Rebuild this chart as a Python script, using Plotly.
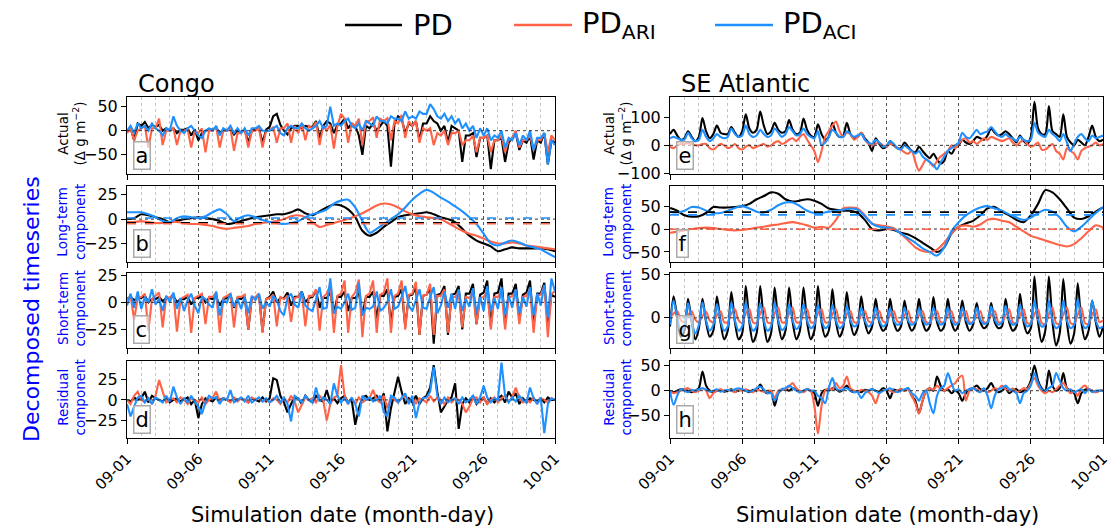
import plotly.graph_objects as go
from plotly.subplots import make_subplots
import pandas as pd

# ---------------- data ----------------
START = "2020-09-01"
END = "2020-10-01"
tick_labels = ["09-01", "09-06", "09-11", "09-16", "09-21", "09-26", "10-01"]
series_names = ["PD", "PD<sub>ARI</sub>", "PD<sub>ACI</sub>"]
series_colors = ["#000000", "#FF6347", "#1E90FF"]
regions = ["Congo", "SE Atlantic"]
row_titles = ["Actual<br>(Δ g m<sup>−2</sup>)", "Long-term<br>component",
              "Short-term<br>component", "Residual<br>component"]
panel_letters = [["a", "b", "c", "d"], ["e", "f", "g", "h"]]

# Congo, 6-hourly
congo_actual_pd = [0, 5, -20, 15, 10, 18, 5, 12, 8, 12, 0, 5, 0, 5, -5, 2, 2, 5, -10, 3,
    -20, -5, 0, 3, 2, 6, -5, 2, 0, 3, -8, 0, -3, 2, -25, 0, 3, 5, -25, 2,
    8, 30, 35, 12, 0, -8, 5, 10, 10, 5, 10, 8, 8, 20, -15, 10, 20, 15, -5, 12,
    15, 25, 5, 15, 10, -10, -50, 10, 5, 15, 0, 10, 20, 10, -75, 15, 30, 25, -5, 15,
    10, 20, -20, 15, 15, 30, 20, 15, 0, 10, -25, 10, 5, 0, -65, -10, -10, -5, -55, -15,
    -15, -10, -80, -20, -20, -15, -65, -25, -15, -5, -40, -20, -25, -10, -60, -20, -25, -5, -70, -20,
    -25]
congo_actual_ari = [-5, 5, -20, 0, 5, 10, -35, 5, 5, 25, -30, 0, 0, 5, -30, 0, 0, 3, -35, 0,
    -5, 5, -45, 0, 0, 8, -35, 0, 0, 5, -42, -5, -5, 3, -35, 0, 0, 5, -35, 0,
    0, 8, -25, 5, 5, 15, -25, 10, -5, 15, -20, 10, 5, 18, -30, 10, 0, 12, -37, 10,
    35, 25, -25, 15, 10, 25, -30, 20, 20, 28, -15, 25, 20, 26, -20, 20, 15, 33, -15, 20,
    10, 20, -25, 5, 0, 5, -30, -5, -10, 0, -30, -5, -5, 0, -30, -20, -20, -10, -45, -15,
    -15, -10, -45, -20, -20, -10, -45, -20, -15, 0, -35, -20, -20, -10, -40, -20, -20, -5, -45, -10,
    -20]
congo_actual_aci = [0, 10, -5, 15, 5, 10, 0, 15, 5, 0, -10, 5, 0, 30, 10, 0, -5, 5, 10, 0,
    -10, -15, 0, 5, 0, 10, -10, 5, 0, 10, -5, 5, -5, 5, -10, 5, 5, 10, 0, 0,
    0, 5, 10, -5, -10, 5, 10, 5, 5, 15, 5, 0, 5, 10, 20, 5, 10, 50, 10, 15,
    10, 20, 25, 10, 5, 15, 0, 20, 15, 10, 30, 20, 20, 15, 30, 25, 25, 20, 40, 25,
    30, 25, 40, 35, 35, 55, 45, 30, 25, 35, 20, 30, 15, 25, 5, 15, 0, 10, -15, 5,
    -10, 5, -20, -10, -15, 0, -35, -15, -20, -5, -30, -10, -20, 0, -40, -15, -15, -5, -70, -20,
    -30]

# Congo long-term, 12-hourly
congo_long_pd = [0, 1, 5, 4, 2, 0, -3, -2, 0, 1,
    2, 1, 0, -2, -5, -4, -2, 0, 2, 3,
    4, 5, 5, 7, 10, 6, 4, 8, 12, 15,
    14, 10, 2, -12, -17, -14, -8, -3, 2, 4,
    5, 6, 7, 5, 2, 0, -3, -10, -17, -22,
    -25, -28, -33, -31, -29, -30, -30, -30, -30, -31,
    -33]
congo_long_ari = [-3, -3, -2, -3, -4, -4, -3, -3, -4, -5,
    -5, -6, -7, -9, -10, -9, -8, -7, -5, -4,
    -3, -2, 0, 3, 4, 2, -3, -8, -6, -4,
    -2, 0, 3, 6, 10, 14, 16, 15, 12, 8,
    5, 3, 2, 1, 0, -4, -8, -12, -15, -17,
    -20, -23, -25, -25, -24, -25, -27, -28, -29, -30,
    -31]
congo_long_aci = [7, 7, 7, 5, 2, -2, -3, 1, 3, 2,
    1, 3, 7, 10, 5, -2, 2, 4, 2, -1,
    -3, -4, -5, -4, -2, 2, 5, 7, 10, 16,
    19, 20, 12, -2, -14, -10, -5, 0, 5, 12,
    20, 26, 30, 27, 22, 18, 13, 8, 2, -5,
    -15, -25, -27, -24, -22, -24, -27, -29, -31, -35,
    -39]
congo_long_means = [-3.7, -4.7, 1.2]

congo_short_pd = [3, 5, 2, 4, 4, 6, 0, 3, 3, 5, 1, 4, 4, 6, 0, 3, 3, 5, -2, 4,
    4, 6, 0, 4, 3, 5, -3, 3, 4, 6, -5, 4, 3, 6, -25, 4, 4, 7, -27, 3,
    5, 10, 0, 4, 4, 9, -3, 5, 5, 10, 0, 4, 5, 11, -5, 4, 4, 9, -10, 5,
    5, 10, -8, 4, 4, 9, -12, 5, 5, 10, -15, 6, 6, 12, -20, 5, 6, 12, -22, 6,
    7, 14, -30, 6, 7, 13, -38, 7, 8, 15, -30, 7, 8, 15, -25, 8, 8, 17, -20, 7,
    9, 20, -22, 8, 9, 22, -20, 8, 8, 17, -15, 7, 9, 20, -22, 8, 8, 18, -20, 7,
    5]
congo_short_ari = [2, 6, -16, 4, 5, 8, -26, 3, 6, 9, -23, 5, 4, 8, -27, 3, 5, 7, -28, 4,
    6, 8, -20, 5, 5, 9, -28, 4, 6, 8, -23, 5, 5, 7, -25, 4, 5, 8, -28, 3,
    4, 7, -22, 5, 3, 6, -18, 4, 5, 9, -22, 6, 6, 12, -26, 5, 8, 16, -28, 6,
    8, 20, -28, 5, 9, 21, -32, 6, 8, 20, -28, 7, 9, 22, -28, 6, 8, 20, -25, 7,
    8, 19, -30, 6, 7, 17, -30, 6, 6, 12, -28, 5, 5, 10, -23, 5, 4, 9, -20, 4,
    5, 10, -25, 5, 5, 11, -25, 4, 6, 10, -20, 5, 6, 12, -28, 6, 7, 15, -32, 8,
    10]
congo_short_aci = [-3, 8, -5, 10, -6, 5, 0, 12, -2, 3, -8, 6, 0, 9, -6, 4, -8, 2, 8, -3,
    -10, 5, 3, -2, -5, 10, -12, 2, 0, 8, -4, 3, -6, 5, -10, 6, 2, 8, -6, 0,
    -4, 6, 2, -8, -12, 4, 8, -2, -5, 10, -3, -6, -8, 2, 14, -6, -5, 22, -10, -4,
    -6, 0, 8, -7, -5, 18, -12, -5, -6, -4, 10, -8, -5, 0, 12, -6, -4, 5, 15, -3,
    -8, 2, 12, -5, -6, 5, 14, -10, -3, 10, -5, 8, -6, 12, -8, 3, -4, 13, -10, 5,
    -8, 15, -8, 4, -6, 14, -12, 6, -5, 12, -10, 5, -4, 14, -12, 8, -3, 16, -14, 22,
    10]

congo_resid_pd = [0, -2, 3, 0, 2, 10, -3, 5, 2, 0, -2, 3, -3, 0, 2, -2, 0, 3, -5, 0,
    -22, -5, 2, 0, -2, 3, 0, 2, 0, -2, 2, 0, 2, 0, -3, 2, 0, -2, 3, -2,
    2, 26, 24, 5, -3, -15, -5, 3, 2, -5, 5, 0, -3, 5, 0, -2, 12, -3, 2, -4,
    2, 5, -3, 0, -30, -10, 3, 5, 0, 2, 5, -3, 8, -38, -10, 8, 28, 10, -5, 2,
    -3, 5, -5, 2, 5, 15, 42, 10, -15, -8, 0, 3, 20, -35, -5, 2, -3, 5, -5, 0,
    3, -5, 2, -3, 2, 5, -3, 10, 3, 8, -5, 2, -3, 2, 0, -2, 2, -3, 3, 0,
    0]
congo_resid_ari = [0, -5, 5, 10, 0, -3, 2, -5, 5, 24, 10, -3, 0, 2, -3, 3, 0, -5, 2, 0,
    -3, 3, -5, 0, 3, 10, -2, 2, 0, -3, 3, -2, 2, 0, -3, 3, 0, 2, -2, 0,
    -3, 2, 0, -5, 2, -3, 5, -2, -15, -5, 3, 0, 2, -3, 5, 0, -25, -5, 3, 5,
    42, 5, -5, 2, -5, 3, -3, 0, 2, 12, 0, -3, 5, -10, 3, 0, -3, 2, 5, -2,
    3, -5, 2, 0, -3, 5, -2, 3, 0, -5, 3, -3, 2, 0, -5, -15, -8, 2, 3, -3,
    3, -5, 0, 3, -3, 2, 5, -2, 3, 15, 2, -3, 0, -3, 3, -5, 2, 0, -3, 2,
    0]
congo_resid_aci = [-5, -20, -8, 3, 5, -3, 2, -5, 3, 0, -3, 5, -2, 16, 3, -5, 2, -3, 5, -2,
    -8, -17, -3, 5, 2, 3, -5, 2, 0, 12, -3, 0, 3, -2, 5, -3, 0, 3, -2, 2,
    -3, 0, 5, -3, 3, -5, -26, 5, 2, -3, 5, 0, -3, 15, -2, 3, 0, -5, 20, 5,
    -3, 2, -5, 3, -5, -20, 5, 0, 3, -2, 0, 5, -15, -20, 5, 3, -3, 2, 8, -5,
    5, -22, -3, 2, 3, 10, 40, 5, -5, 3, -3, 0, 2, -5, 3, -3, 0, 5, -5, 3,
    17, 3, -3, 2, 0, 45, 5, -3, 3, -2, 5, 0, -3, 15, 2, -5, 3, -40, -5, 2,
    0]

# SE Atlantic
atl_actual_pd = [40, 55, 35, 20, 25, 50, 30, 15, 30, 97, 50, 25, 40, 70, 45, 40, 40, 65, 45, 30,
    50, 110, 60, 45, 55, 120, 70, 40, 50, 80, 55, 45, 50, 90, 55, 40, 45, 95, 55, 35,
    30, 75, 40, 20, 30, 80, 45, 30, 35, 80, 40, 25, 30, 45, 25, 10, -20, 25, 5, -10,
    -5, 15, 0, -10, -10, 10, -5, -20, -25, -5, -20, -35, -45, -30, -50, -65, -55, -20, -30, -10,
    0, 20, 10, 5, 15, 30, 25, 20, 35, 60, 45, 35, 40, 50, 40, 25, 10, 35, 15, 5,
    30, 155, 60, 40, 40, 140, 50, 40, 30, 110, 30, 10, 0, 20, 10, 0, 30, 70, 30, 15,
    20]
atl_actual_ari = [-5, -10, 0, 5, 5, 8, 5, 0, 0, 5, 5, -10, -15, -5, 5, 0, -10, -5, 5, -10,
    -15, -5, 0, -10, -5, 0, 5, -5, 0, 10, 15, 5, 10, 20, 25, 15, 30, 40, 20, 0,
    -20, -60, -20, 30, 50, 70, 85, 50, 30, 45, 40, 20, 30, 45, 20, 5, 0, 5, 10, 0,
    -5, 5, 0, -10, -15, -25, -30, -20, -60, -90, -70, -50, -60, -75, -55, -40, -30, -20, 0, -10,
    5, 20, 25, 10, 15, 5, 15, 25, 20, 30, 25, 20, 15, 20, 25, 10, 0, 10, 20, 5,
    -5, 0, 10, -15, -15, -5, 5, -20, -30, -50, -10, -20, -30, -50, -20, -10, -5, 0, 10, 0,
    5]
atl_actual_aci = [25, 30, 25, 20, 20, 45, 25, 15, 20, 55, 30, 15, 25, 40, 30, 25, 30, 60, 40, 30,
    35, 70, 40, 30, 35, 55, 40, 30, 35, 60, 45, 30, 40, 65, 50, 35, 40, 60, 40, 30,
    25, 50, 0, 10, 30, 55, 45, 30, 30, 50, 40, 30, 35, 40, 20, 10, 5, 20, 10, -5,
    0, 15, 5, -10, -15, 0, -10, -20, -30, -20, -40, -50, -60, -70, -85, -60, -40, -20, -10, 0,
    10, 45, 30, 25, 40, 55, 40, 45, 50, 65, 50, 35, 30, 40, 30, 25, 15, 30, 20, 15,
    20, 80, 45, 35, 30, 55, 40, 30, 15, 40, 10, -20, 5, 30, 40, 25, 15, 35, 25, 30,
    35]

atl_long_pd = [46, 40, 30, 27, 28, 35, 48, 47, 47, 48,
    50, 55, 65, 72, 80, 77, 65, 60, 62, 65,
    62, 55, 45, 42, 40, 40, 35, 20, 0, -3,
    0, -2, -8, -12, -20, -30, -40, -50, -40, -10,
    5, 12, 18, 30, 45, 48, 38, 30, 20, 15,
    30, 55, 85, 80, 65, 45, 25, 22, 28, 38,
    47]
atl_long_ari = [-8, -6, -3, 0, 2, 3, 2, 0, -2, -3,
    -2, 0, 3, 5, 8, 10, 13, 15, 12, 8,
    3, 5, 3, 20, 45, 47, 45, 30, 12, 8,
    6, 2, -10, -25, -40, -48, -50, -45, -30, -10,
    5, 8, 5, 10, 20, 22, 18, 15, 5, -5,
    -15, -20, -25, -30, -35, -38, -33, -20, -5, 8,
    3]
atl_long_aci = [38, 36, 40, 48, 47, 40, 35, 35, 40, 46,
    50, 45, 38, 36, 42, 52, 58, 58, 50, 40,
    35, 35, 38, 40, 42, 45, 42, 28, 12, 5,
    3, 0, -10, -20, -30, -42, -50, -58, -40, -5,
    15, 30, 40, 47, 50, 45, 40, 32, 25, 20,
    25, 35, 42, 38, 25, 5, -5, 5, 20, 35,
    48]
atl_long_means = [37, -0.5, 31]

atl_short_pd = [-10, 25, 0, -22, -15, 22, -5, -25, -12, 22, -5, -22, -15, 25, -5, -25, -15, 30, -5, -25,
    -18, 37, -5, -28, -18, 37, -5, -28, -18, 35, -5, -25, -15, 35, -5, -25, -15, 35, -5, -25,
    -15, 37, -5, -22, -15, 33, -5, -22, -12, 30, -5, -20, -12, 25, -5, -18, -10, 22, -5, -15,
    -10, 22, -5, -15, -10, 20, -5, -15, -8, 22, -5, -15, -10, 24, -5, -15, -10, 22, -5, -15,
    -8, 20, -5, -15, -8, 17, -5, -12, -8, 17, -5, -12, -10, 22, -5, -15, -10, 28, -5, -18,
    -12, 48, -5, -28, -15, 48, -5, -32, -18, 45, -5, -30, -18, 40, -5, -25, -15, 20, -5, -22,
    -10]
atl_short_ari = [0, 5, 8, -3, -5, 3, 8, -2, -5, 2, 7, -3, -5, 3, 8, -5, -5, 5, 10, -3,
    -6, 5, 10, -5, -6, 5, 12, -5, -6, 5, 12, -5, -5, 5, 12, -5, -5, 5, 10, -5,
    -5, 5, 10, -5, -5, 4, 10, -5, -5, 4, 8, -5, -5, 3, 8, -4, -5, 3, 8, -4,
    -5, 3, 8, -4, -5, 3, 8, -5, -5, 3, 8, -5, -6, 3, 8, -5, -5, 3, 8, -5,
    -5, 3, 8, -5, -5, 3, 8, -5, -5, 3, 8, -5, -5, 3, 10, -5, -6, 3, 10, -6,
    -6, 4, 10, -6, -7, 4, 12, -6, -7, 4, 12, -6, -7, 4, 12, -6, -7, 4, 10, -5,
    -3]
atl_short_aci = [-8, 20, 0, -15, -10, 17, -3, -18, -8, 18, -3, -15, -8, 16, -3, -15, -10, 18, -3, -15,
    -10, 18, -3, -15, -10, 17, -3, -15, -10, 18, -3, -14, -10, 16, -3, -13, -8, 16, -3, -12,
    -8, 15, -3, -12, -8, 15, -3, -12, -8, 14, -3, -10, -7, 12, -3, -10, -6, 12, -3, -10,
    -6, 11, -3, -8, -6, 12, -3, -8, -5, 11, -2, -8, -5, 12, -2, -8, -5, 12, -2, -8,
    -5, 12, -2, -7, -5, 12, -2, -7, -5, 13, -2, -8, -5, 14, -2, -8, -6, 15, -2, -10,
    -7, 20, -2, -10, -8, 20, -3, -12, -8, 20, -3, -12, -8, 22, -3, -12, -8, 20, -3, -12,
    -10]

atl_resid_pd = [0, -3, 0, 3, 2, 0, -3, 0, 5, 38, 10, 0, -3, 0, 2, -2, 0, 3, -2, 0,
    2, 0, -3, 2, 0, 12, 0, -5, 0, -30, -5, 2, 3, 0, 5, 2, -3, 0, 3, 0,
    -5, -30, -5, 2, 0, 5, 3, -2, 2, 10, 0, -3, 0, -3, 2, 0, 3, 0, -2, 5,
    0, -15, 2, 0, 3, 0, 5, -10, -20, -45, -20, 0, 5, 0, 28, 10, 0, 3, -5, 0,
    -5, -20, -5, 3, 5, 10, 3, 0, 5, 15, 3, -3, 0, 5, -5, 0, 3, -3, 0, 5,
    20, 50, 20, 5, 0, 40, 10, 0, 5, 35, 5, 0, -5, -25, -5, 2, 3, 0, -3, 0,
    0]
atl_resid_ari = [0, -5, -3, 0, 3, 5, 0, -3, 0, 5, 0, -15, -5, 0, 3, 0, 2, 0, -3, 2,
    0, 3, 0, -3, 2, 0, -2, 0, 0, -15, 0, 3, 3, 8, 15, 5, 0, -3, 2, 0,
    -30, -85, -30, 0, 5, 2, 15, 5, 10, 28, 5, 0, -3, 2, 0, -3, -10, -25, -5, 0,
    2, 0, -3, 0, 3, 0, 2, -10, -25, -45, -20, 0, 5, 2, 10, 3, 0, 5, 10, 15,
    25, 30, -20, 0, 5, 3, 0, 3, -3, 0, 5, 3, 10, 3, 0, 5, -3, 0, 5, 3,
    15, 25, 10, 0, -5, 0, -3, 3, 10, 15, 5, -5, 0, -10, 5, 10, 3, 0, -3, 0,
    0]
atl_resid_aci = [0, -28, -10, 3, 0, -3, 2, 0, 3, 5, 2, -2, 0, 3, -2, 0, 2, 0, 3, 5,
    3, 0, -2, 0, 5, 8, 3, -5, -5, -20, -5, 3, 5, 10, 5, 0, -3, 0, 3, 0,
    0, -10, -15, -25, 5, 25, 5, 0, 3, 5, 0, -3, -3, -15, -5, 0, 3, 0, -5, 0,
    2, 5, 0, -3, 0, 3, 5, -5, -10, -20, -5, 0, -25, -45, -10, 5, 10, 35, 15, 0,
    3, -5, 0, 3, 5, 0, -3, 5, -10, -35, -10, 3, 5, 10, 3, 0, -5, -25, -5, 0,
    10, 35, 15, 3, 0, 5, 10, 35, 20, 5, 0, 3, -3, 0, 3, -5, 3, -3, 0, 0,
    0]

y_ranges = [[[-90, 70], [-44, 34], [-42, 27], [-46, 47]],
            [[-102, 172], [-72, 94], [-35, 52], [-94, 59]]]
y_ticks = [[[-50, 0, 50], [-25, 0, 25], [-25, 0, 25], [-25, 0, 25]],
           [[-100, 0, 100], [-50, 0, 50], [0, 50], [-50, 0, 50]]]

panels = {
    "Congo": [
        [congo_actual_pd, congo_actual_ari, congo_actual_aci],
        [congo_long_pd, congo_long_ari, congo_long_aci],
        [congo_short_pd, congo_short_ari, congo_short_aci],
        [congo_resid_pd, congo_resid_ari, congo_resid_aci],
    ],
    "SE Atlantic": [
        [atl_actual_pd, atl_actual_ari, atl_actual_aci],
        [atl_long_pd, atl_long_ari, atl_long_aci],
        [atl_short_pd, atl_short_ari, atl_short_aci],
        [atl_resid_pd, atl_resid_ari, atl_resid_aci],
    ],
}
long_means = {"Congo": congo_long_means, "SE Atlantic": atl_long_means}

# ---------------- layout geometry (pixels) ----------------
W, H = 1120, 531
col_x = [(127, 555), (670, 1103)]
row_y = [(97, 174), (186, 262), (273, 348), (361, 438)]
ytitle_x = [71, 617]

def px(x):
    return x / W

def py(y):
    return 1 - y / H

fig = make_subplots(rows=4, cols=2)
FONT = "DejaVu Sans"
BLUE_LABEL = "#0000FF"

annotations = []
shapes = []
major_ticks = pd.date_range(START, END, freq="5D")

for c, region in enumerate(regions):
    for r in range(4):
        idx = r * 2 + c + 1
        xa = "x" if idx == 1 else f"x{idx}"
        ya = "y" if idx == 1 else f"y{idx}"
        freq = "12h" if r == 1 else "6h"
        smooth = (r == 1) or (c == 1)
        for k in range(3):
            vals = panels[region][r][k]
            xs = pd.date_range(START, periods=len(vals), freq=freq)
            fig.add_trace(go.Scatter(
                x=xs, y=vals, mode="lines", name=series_names[k],
                line=dict(color=series_colors[k], width=2.1,
                          shape="spline" if smooth else "linear",
                          smoothing=0.8 if smooth else None),
                showlegend=False, hoverinfo="skip"), row=r + 1, col=c + 1)
        # zero reference line
        shapes.append(dict(type="line", xref=f"{xa} domain", yref=ya, x0=0, x1=1,
                           y0=0, y1=0, line=dict(color="#333333", width=1, dash="dot")))
        if r == 1:
            for k in range(3):
                m = long_means[region][k]
                shapes.append(dict(type="line", xref=f"{xa} domain", yref=ya, x0=0, x1=1,
                                   y0=m, y1=m,
                                   line=dict(color=series_colors[k], width=1.6, dash="dash")))
        x0, x1 = col_x[c]
        y0, y1 = row_y[r]
        fig.update_xaxes(
            row=r + 1, col=c + 1, domain=[px(x0), px(x1)], type="date", automargin=False,
            range=[START, END], tickmode="array", tickvals=major_ticks,
            ticktext=tick_labels, showticklabels=(r == 3), tickangle=-45,
            tickfont=dict(size=15, family=FONT, color="black"),
            ticks="outside", ticklen=5, tickcolor="black",
            showline=True, mirror=True, linecolor="black", linewidth=1,
            showgrid=True, gridcolor="#555555", griddash="dot", gridwidth=1,
            minor=dict(tickmode="linear", tick0=START, dtick=86400000, showgrid=True,
                       gridcolor="#c4c4c4", griddash="dot", gridwidth=1),
            zeroline=False)
        fig.update_yaxes(
            row=r + 1, col=c + 1, domain=[py(y1), py(y0)], range=y_ranges[c][r],
            automargin=False, tickmode="array", tickvals=y_ticks[c][r],
            tickfont=dict(size=16, family=FONT, color="black"),
            ticks="outside", ticklen=5, tickcolor="black",
            showline=True, mirror=True, linecolor="black", linewidth=1,
            showgrid=False, zeroline=False)
        # panel letter box
        annotations.append(dict(
            text=panel_letters[c][r], xref=f"{xa} domain", yref=f"{ya} domain",
            x=0.013, y=0.05, xanchor="left", yanchor="bottom", showarrow=False,
            font=dict(size=21, family=FONT, color="black"),
            bordercolor="#aaaaaa", borderwidth=1.5, borderpad=1,
            bgcolor="rgba(255,255,255,0.6)"))
        # y axis title
        annotations.append(dict(
            text=row_titles[r], xref="paper", yref="paper",
            x=px(ytitle_x[c]), y=py((y0 + y1) / 2 - 2), xanchor="center", yanchor="middle",
            textangle=-90, showarrow=False,
            font=dict(size=13.5, family=FONT, color="black" if r == 0 else BLUE_LABEL)))
    # region title
    annotations.append(dict(
        text=region, xref="paper", yref="paper", x=px(col_x[c][0] + 9), y=py(84),
        xanchor="left", yanchor="middle", showarrow=False,
        font=dict(size=24, family=FONT, color="black")))
    # x title
    annotations.append(dict(
        text="Simulation date (month-day)", xref="paper", yref="paper",
        x=px((col_x[c][0] + col_x[c][1]) / 2 + 1), y=py(515), xanchor="center",
        yanchor="middle", showarrow=False,
        font=dict(size=21, family=FONT, color="black")))

annotations.append(dict(
    text="Decomposed timeseries", xref="paper", yref="paper", x=px(31), y=py(309),
    xanchor="center", yanchor="middle", textangle=-90, showarrow=False,
    font=dict(size=22, family=FONT, color=BLUE_LABEL)))

# manual legend
leg_line = [(345, 402), (514, 572), (715, 773)]
leg_text_x = [411, 580, 781]
for k in range(3):
    shapes.append(dict(type="line", xref="paper", yref="paper",
                       x0=px(leg_line[k][0]), x1=px(leg_line[k][1]), y0=py(25), y1=py(25),
                       line=dict(color=series_colors[k], width=2.5)))
    annotations.append(dict(
        text=series_names[k], xref="paper", yref="paper", x=px(leg_text_x[k]), y=py(25),
        xanchor="left", yanchor="middle", showarrow=False,
        font=dict(size=29, family=FONT, color="black")))

fig.update_layout(
    template="none",
    width=W, height=H, margin=dict(l=0, r=0, t=0, b=0, pad=0, autoexpand=False),
    paper_bgcolor="white", plot_bgcolor="white", showlegend=False,
    font=dict(family=FONT, color="black"),
    annotations=annotations, shapes=shapes)

fig.write_html("out.html")
